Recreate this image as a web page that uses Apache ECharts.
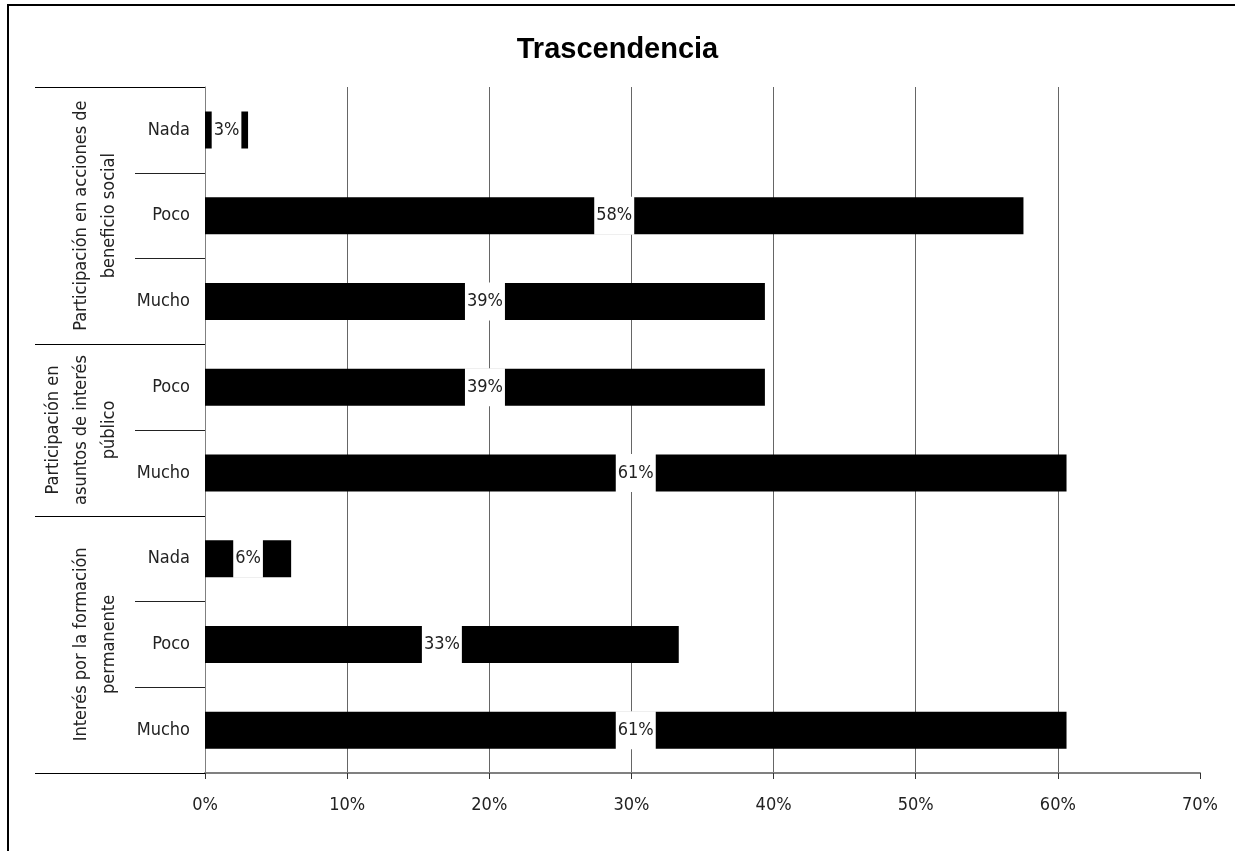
<!DOCTYPE html>
<html>
<head>
<meta charset="utf-8">
<script src="https://cdn.jsdelivr.net/npm/echarts@6/dist/echarts.min.js"></script>
<style>
html,body{margin:0;padding:0;background:#fff;}
#chart{width:1235px;height:851px;}
</style>
</head>
<body>
<div id="chart"></div>
<script>
// ---- data ----
const title = 'Trascendencia';
const groups = [
  'Participación en acciones de\nbeneficio social',
  'Participación en\nasuntos de interés\npúblico',
  'Interés por la formación\npermanente'
];
const groupSizes = [3, 2, 3];
const categories = ['Nada', 'Poco', 'Mucho', 'Poco', 'Mucho', 'Nada', 'Poco', 'Mucho'];
const values = [3.03, 57.58, 39.39, 39.39, 60.61, 6.06, 33.33, 60.61];
const xTicks = [0, 10, 20, 30, 40, 50, 60, 70];

// ---- derived group boundaries / centers (in category units) ----
const groupBounds = [0];
groupSizes.forEach(s => groupBounds.push(groupBounds[groupBounds.length - 1] + s));
const groupCenters = groupSizes.map((s, i) => groupBounds[i] + s / 2);

const FONT = "'Liberation Sans Narrow', 'Arial Narrow', 'DejaVu Sans Condensed', sans-serif";
const FS = 18;

const chart = echarts.init(document.getElementById('chart'));
chart.setOption({
  animation: false,
  backgroundColor: '#fff',
  title: {
    text: title,
    left: 'center',
    top: 30,
    textStyle: { fontFamily: "'Liberation Sans', Arial, sans-serif", fontSize: 29, fontWeight: 'bold', color: '#000' }
  },
  graphic: [{
    type: 'rect',
    shape: { x: 8, y: 5, width: 1240, height: 860 },
    style: { fill: null, stroke: '#000', lineWidth: 2 },
    silent: true
  }],
  grid: { left: 205, right: 35, top: 87, bottom: 78, containLabel: false },
  xAxis: {
    type: 'value',
    min: xTicks[0],
    max: xTicks[xTicks.length - 1],
    interval: xTicks[1] - xTicks[0],
    axisLine: { show: true, onZero: false, lineStyle: { color: '#808080', width: 2 } },
    axisTick: { show: true, length: 6, lineStyle: { color: '#333', width: 1 } },
    axisLabel: { formatter: '{value}%', margin: 23, fontFamily: FONT, fontSize: FS, color: '#222' },
    splitLine: { show: true, showMaxLine: false, lineStyle: { color: '#666', width: 1 } }
  },
  yAxis: [{
    type: 'category',
    data: categories,
    inverse: true,
    axisLine: { show: true, onZero: false, lineStyle: { color: '#808080', width: 1 } },
    axisTick: { show: true, length: 70, lineStyle: { color: '#222', width: 1 } },
    axisLabel: { margin: 15, fontFamily: FONT, fontSize: FS, color: '#222' }
  }, {
    type: 'value',
    min: 0,
    max: categories.length,
    inverse: true,
    position: 'left',
    axisLine: { show: false, onZero: false },
    splitLine: { show: false },
    axisTick: { show: true, length: 170, customValues: groupBounds, lineStyle: { color: '#000', width: 1.2 } },
    axisLabel: {
      show: true,
      customValues: groupCenters,
      rotate: 90,
      margin: 82,
      fontFamily: FONT,
      fontSize: FS,
      lineHeight: 28,
      color: '#222',
      align: 'center',
      formatter: function (v) {
        const i = groupCenters.indexOf(v);
        return i >= 0 ? groups[i] : '';
      }
    }
  }],
  series: [{
    type: 'bar',
    yAxisIndex: 0,
    data: values,
    barWidth: 37,
    itemStyle: { color: '#000' },
    label: {
      show: true,
      position: 'inside',
      formatter: p => Math.round(p.value) + '%',
      backgroundColor: '#fff',
      padding: [10, 2],
      fontFamily: FONT,
      fontSize: FS,
      color: '#222'
    }
  }]
});
</script>
</body>
</html>
